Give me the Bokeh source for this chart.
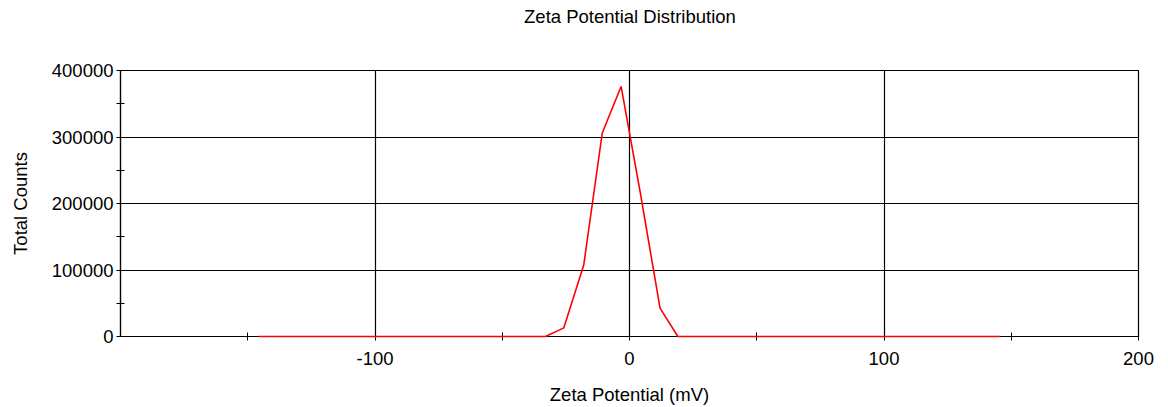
from bokeh.plotting import figure
from bokeh.layouts import column
from bokeh.models import Range1d, FixedTicker, NumeralTickFormatter
from bokeh.core.properties import value
from bokeh.embed import file_html
from bokeh.resources import INLINE

# Data
zeta_mv = [-145.6, -33.0, -25.8, -18.0, -10.7, -3.3, 4.3, 12.0, 19.0, 145.7]
total_counts = [0, 0, 13000, 107000, 306000, 376000, 215000, 42600, 0, 0]

x_major = [-100, 0, 100, 200]
x_minor = [-150, -50, 50, 150]
y_major = [0, 100000, 200000, 300000, 400000]
y_minor = [50000, 150000, 250000, 350000]

TITLE = "Zeta Potential Distribution"

FONT = "Liberation Sans"
FS = "18.5px"

# --- title strip (a small figure holding only the title text) ---
t = figure(width=1168, height=40, output_backend="svg", toolbar_location=None,
           x_range=Range1d(0, 1168), y_range=Range1d(0, 40),
           x_axis_type=None, y_axis_type=None,
           min_border=0, min_border_left=0, min_border_right=0,
           min_border_top=0, min_border_bottom=0)
t.outline_line_color = None
t.grid.visible = False
t.background_fill_color = "white"
t.border_fill_color = "white"
t.text(x=[463], y=[24], text=[TITLE], text_font=value(FONT),
       text_font_size=value(FS), text_color="black",
       text_baseline="middle", text_align="left")

# --- main chart ---
p = figure(width=1168, height=367, output_backend="svg", toolbar_location=None,
           x_range=Range1d(-200, 200), y_range=Range1d(0, 400000),
           min_border_left=120, min_border_right=30, min_border_top=30,
           min_border_bottom=71)

p.line(zeta_mv, total_counts, line_color="#ff0000", line_width=1.6,
       level="overlay")

p.outline_line_color = "black"
p.outline_line_width = 1.2
p.outline_line_alpha = 1

p.xaxis.ticker = FixedTicker(ticks=x_major, minor_ticks=x_minor)
p.yaxis.ticker = FixedTicker(ticks=y_major, minor_ticks=y_minor)
p.xaxis.formatter = NumeralTickFormatter(format="0")
p.yaxis.formatter = NumeralTickFormatter(format="0")

for ax in (p.xaxis, p.yaxis):
    ax.axis_line_color = "black"
    ax.axis_line_width = 1.2
    ax.major_tick_line_color = "black"
    ax.minor_tick_line_color = "black"
    ax.major_tick_in = 4
    ax.major_tick_out = 4
    ax.minor_tick_in = 4
    ax.minor_tick_out = 4
    ax.major_label_text_font = FONT
    ax.major_label_text_font_size = FS
    ax.major_label_text_color = "black"
    ax.axis_label_text_font = FONT
    ax.axis_label_text_font_size = FS
    ax.axis_label_text_font_style = "normal"
    ax.axis_label_text_color = "black"

p.xaxis.axis_label = "Zeta Potential (mV)"
p.yaxis.axis_label = "Total Counts"
p.xaxis.major_label_standoff = 11
p.yaxis.major_label_standoff = 3
p.xaxis.axis_label_standoff = 16
p.yaxis.axis_label_standoff = 18

p.xgrid.grid_line_color = "black"
p.ygrid.grid_line_color = "black"
p.xgrid.grid_line_alpha = 1
p.ygrid.grid_line_alpha = 1
p.xgrid.grid_line_width = 1.2
p.ygrid.grid_line_width = 1.2

p.background_fill_color = "white"
p.border_fill_color = "white"

layout = column(t, p, spacing=0)
open("out.html", "w").write(file_html(layout, INLINE))
